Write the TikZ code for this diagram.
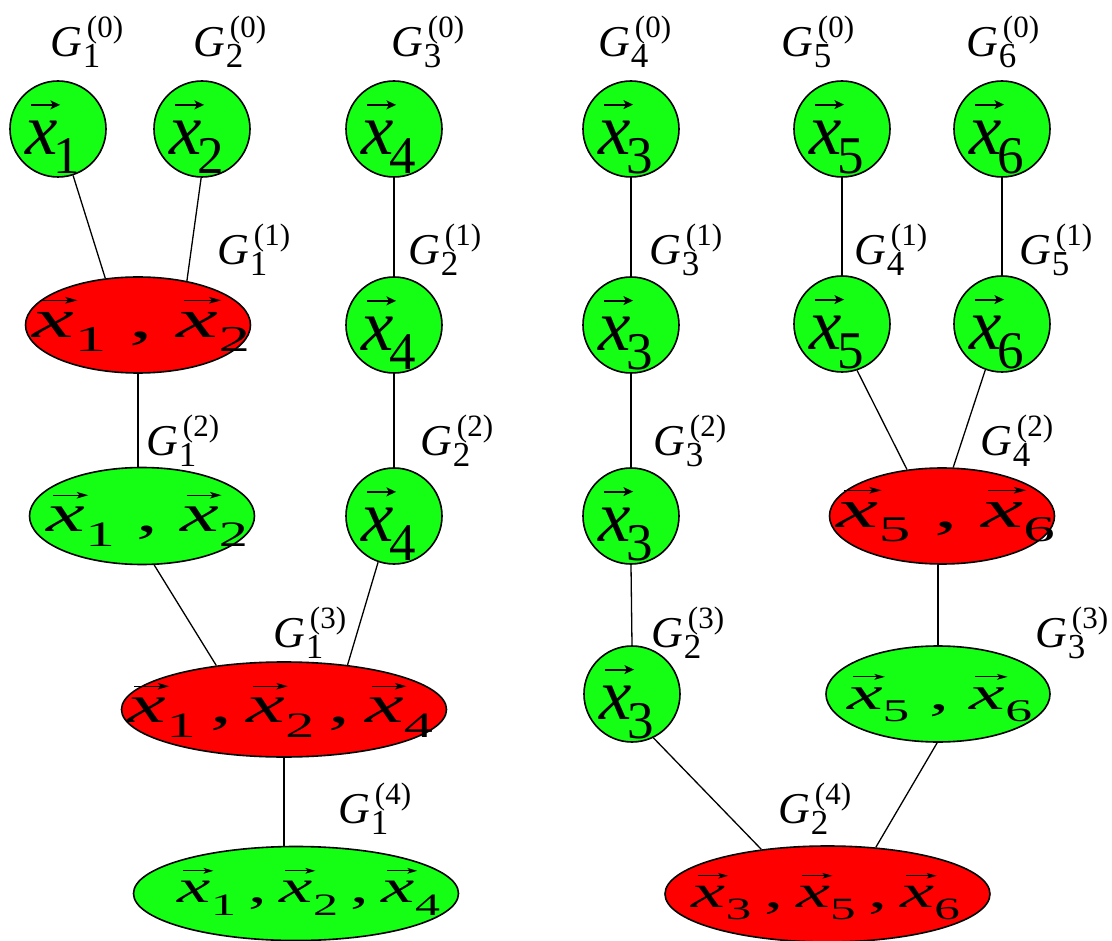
\documentclass[tikz,border=0pt]{standalone}
\usepackage{fontspec}
\setmainfont{Liberation Serif}
\usepackage{graphicx}
\usetikzlibrary{shapes.geometric,arrows.meta}
\definecolor{ngreen}{RGB}{20,255,20}
\definecolor{nred}{RGB}{255,0,0}
\newcommand\arr{\tikz[baseline=0pt,x=1em,y=1em]\draw[line width=0.026em,-{Stealth[length=0.13em,width=0.12em,inset=0.03em]}] (0,0)--(0.40,0);}
\newcommand\vx{\rlap{\kern0.06em\raisebox{0.68em}{\arr}}\textit{x}}
\newcommand\cx[1]{\fontsize{73}{73}\selectfont\vx\kern-4pt\raisebox{-19pt}{\fontsize{53}{53}\selectfont #1}}
\newcommand\ex[1]{\vx\raisebox{-16pt}{\fontsize{40}{40}\selectfont #1}}
\newcommand\et[3]{\resizebox*{#1pt}{#2pt}{\fontsize{60}{60}\selectfont #3}}
\newcommand\glab[2]{\fontsize{44}{44}\selectfont\textit{G}\kern1pt\rlap{\raisebox{19pt}{\kern4pt\fontsize{31}{31}\selectfont(#2)}}\raisebox{-11pt}{\fontsize{35}{35}\selectfont #1}}
\tikzset{
  circ/.style={circle, draw, line width=1.6pt, fill=ngreen, minimum size=96pt, inner sep=0pt},
  ell/.style={ellipse, draw, line width=1.6pt, inner sep=0pt},
  gell/.style={ell, fill=ngreen},
  rell/.style={ell, fill=nred},
  conn/.style={line width=1.3pt},
  txt/.style={inner sep=0pt},
  glabel/.style={anchor=base west, inner sep=0pt}
}
\begin{document}
\begin{tikzpicture}[x=1pt,y=-1pt]
\useasboundingbox (0,0) rectangle (1112,941);
% circles
\foreach \n/\x/\y/\s in {c1/58/129/1, c2/202/129/2, c4a/394/129/4, c3a/631/129/3, c5a/842/129/5, c6a/1002/129/6,
  c4b/394/325/4, c3b/631/325/3, c5b/842/324/5, c6b/1002/324/6,
  c4c/394/516/4, c3c/631/516/3, c3d/632/694/3}{
  \node[circ] (\n) at (\x,\y) {};
  \node[txt, xshift=-5pt, yshift=-8pt] (t\n) at (\n.center) {\cx{\s}};
}
% ellipses
\node[rell, minimum width=225pt, minimum height=96pt] (e12r) at (138,325) {};
\node[gell, minimum width=225pt, minimum height=97pt] (e12g) at (142,516) {};
\node[rell, minimum width=325pt, minimum height=95pt] (e124r) at (284,709.5) {};
\node[gell, minimum width=325pt, minimum height=94pt] (e124g) at (296,893.5) {};
\node[rell, minimum width=225pt, minimum height=96pt] (e56r) at (942,516) {};
\node[gell, minimum width=224pt, minimum height=96pt] (e56g) at (938,694) {};
\node[rell, minimum width=325pt, minimum height=96pt] (e356r) at (827.5,894) {};
% ellipse texts
\node[txt] (te12r) at (141.5,324.5) {\et{217}{55}{\ex{1}\ ,\ \ex{2}}};
\node[txt] (te12g) at (147.5,519) {\et{201}{54}{\ex{1}\ ,\ \ex{2}}};
\node[txt] (te124r) at (280.5,710) {\et{305}{54}{\ex{1}\,,\,\ex{2}\,,\,\ex{4}}};
\node[txt] (te124g) at (309,891.5) {\et{262}{47}{\ex{1}\,,\,\ex{2}\,,\,\ex{4}}};
\node[txt] (te56r) at (946,514.5) {\et{218}{55}{\ex{5}\ ,\ \ex{6}}};
\node[txt] (te56g) at (939.5,698) {\et{185}{48}{\ex{5}\ ,\ \ex{6}}};
\node[txt] (te356r) at (826,896.5) {\et{268}{47}{\ex{3}\,,\,\ex{5}\,,\,\ex{6}}};
% connectors
\draw[conn] (c1.-72) -- (e12r.125);
\draw[conn] (c2.-91) -- (e12r.42);
\draw[conn] (c4a) -- (c4b);
\draw[conn] (e12r.south) -- (e12r.south |- e12g.north);
\draw[conn] (c4b) -- (c4c);
\draw[conn] (e12g.-76) -- (e124r.147);
\draw[conn] (c4c.-109) -- (e124r.35);
\draw[conn] (e124r.south) -- (e124r.south |- e124g.north);
\draw[conn] (c3a) -- (c3b);
\draw[conn] (c3b) -- (c3c);
\draw[conn] (c3c.south) -- (c3d.north);
\draw[conn] (c3d.-64) -- (e356r.146);
\draw[conn] (c5a) -- (c5b);
\draw[conn] (c6a) -- (c6b);
\draw[conn] (c5b.-72) -- (e56r.127);
\draw[conn] (c6b.-110) -- (e56r.77);
\draw[conn] (e56g.north |- e56r.south) -- (e56g.north);
\draw[conn] (e56g.-91) -- (e356r.44);
% labels
\foreach \x/\y/\s/\p [count=\i] in {52/57/1/0, 195/57/2/0, 393/57/3/0, 600/57/4/0, 783/57/5/0, 968/57/6/0,
  219/265/1/1, 410/265/2/1, 651/265/3/1, 856/265/4/1, 1021/265/5/1,
  148/456/1/2, 422/456/2/2, 655/456/3/2, 982/456/4/2,
  275/647/1/3, 653/647/2/3, 1037/647/3/3,
  340/823/1/4, 780/823/2/4}{
  \node[glabel] (g\i) at (\x-2,\y) {\glab{\s}{\p}};
}
\end{tikzpicture}
\end{document}
